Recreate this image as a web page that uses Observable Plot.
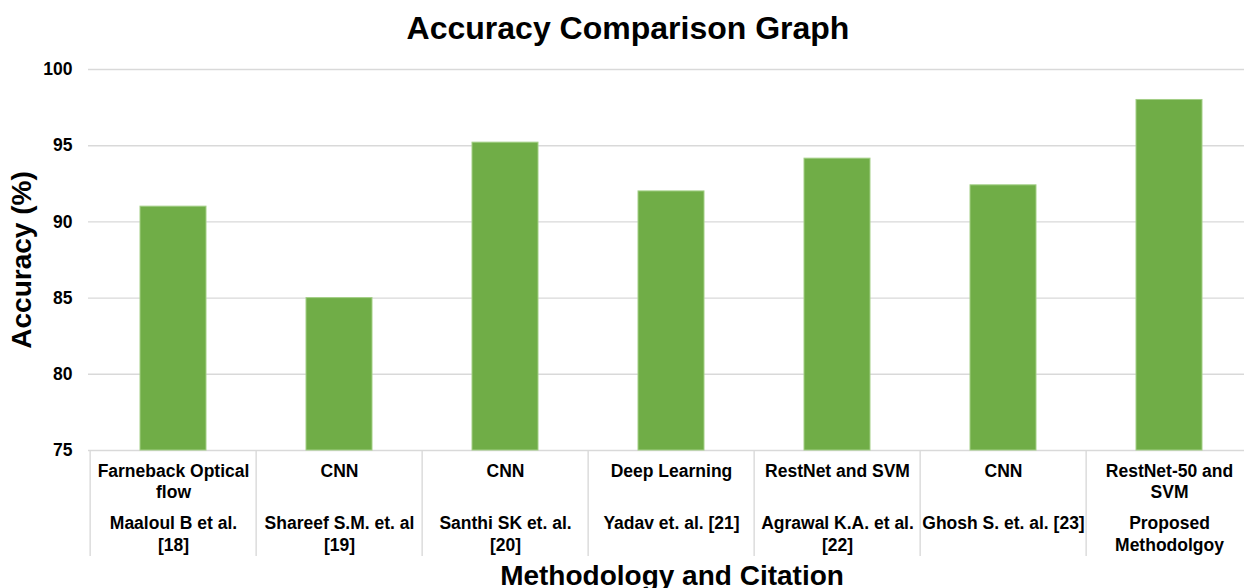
<!DOCTYPE html>
<html>
<head>
<meta charset="utf-8">
<script src="https://cdn.jsdelivr.net/npm/d3@7"></script>
<script src="https://cdn.jsdelivr.net/npm/@observablehq/plot@0.6"></script>
<style>
  html, body { margin: 0; padding: 0; background: #fff; }
  #chart svg { display: block; }
</style>
</head>
<body>
<div id="chart"></div>
<script>
const chartTitle = "Accuracy Comparison Graph";
const yLabel = "Accuracy (%)";
const xLabel = "Methodology and Citation";
const methods = ["Farneback Optical\nflow", "CNN", "CNN", "Deep Learning", "RestNet and SVM", "CNN", "RestNet-50 and\nSVM"];
const citations = ["Maaloul B et al.\n[18]", "Shareef S.M. et. al\n[19]", "Santhi SK et. al.\n[20]", "Yadav et. al. [21]", "Agrawal K.A. et al.\n[22]", "Ghosh S. et. al. [23]", "Proposed\nMethodolgoy"];
const accuracy = [91, 85, 95.2, 92, 94.15, 92.4, 98];
const yDomain = [75, 100];
const yTicks = [75, 80, 85, 90, 95, 100];

const data = citations.map((c, i) => ({key: c, method: methods[i], citation: c, value: accuracy[i]}));

const W = 1244, H = 588;
const mL = 88, mR = -11, mT = 69, mB = 138;
const step = (W - mL - mR) / citations.length;
const font = "Arial, 'Liberation Sans', Helvetica, sans-serif";
const grey = "#d9d9d9";

const chart = Plot.plot({
  width: W,
  height: H,
  marginLeft: mL,
  marginRight: mR,
  marginTop: mT,
  marginBottom: mB,
  style: {fontFamily: font, color: "#000", background: "#fff", overflow: "hidden"},
  x: {domain: citations, paddingInner: 0.6, paddingOuter: 0.3, axis: null},
  y: {domain: yDomain, axis: null},
  marks: [
    Plot.gridY(yTicks, {stroke: grey, strokeOpacity: 1, strokeWidth: 1.4}),
    Plot.ruleX(citations, {x: d => d, dx: -step / 2, stroke: grey, strokeWidth: 1.4, insetTop: (H - mB - mT), insetBottom: -106}),
    Plot.barY(data, {x: "key", y1: yDomain[0], y2: "value", fill: "#70AD47", stroke: "#a3cf86", strokeWidth: 1}),
    Plot.axisY(yTicks, {tickSize: 0, tickPadding: 16, fontSize: 17.5, fontWeight: "bold", label: null}),
    Plot.text(data, {x: "key", text: "method", frameAnchor: "bottom", lineAnchor: "top", dy: 12, lineHeight: 1.17, fontSize: 17.5, fontWeight: "bold", fill: "#000"}),
    Plot.text(data, {x: "key", text: "citation", frameAnchor: "bottom", lineAnchor: "top", dy: 63, lineHeight: 1.25, fontSize: 17.5, fontWeight: "bold", fill: "#000"}),
    Plot.text([chartTitle], {frameAnchor: "top", lineAnchor: "middle", textAnchor: "middle", dx: -44, dy: -41, fontSize: 32, fontWeight: "bold", fill: "#000"}),
    Plot.text([yLabel], {frameAnchor: "left", lineAnchor: "middle", textAnchor: "middle", dx: -66, rotate: -90, fontSize: 28, fontWeight: "bold", fill: "#000"}),
    Plot.text([xLabel], {frameAnchor: "bottom", lineAnchor: "middle", textAnchor: "middle", dy: 126, fontSize: 28, fontWeight: "bold", fill: "#000"})
  ]
});
document.getElementById("chart").appendChild(chart);
</script>
</body>
</html>
